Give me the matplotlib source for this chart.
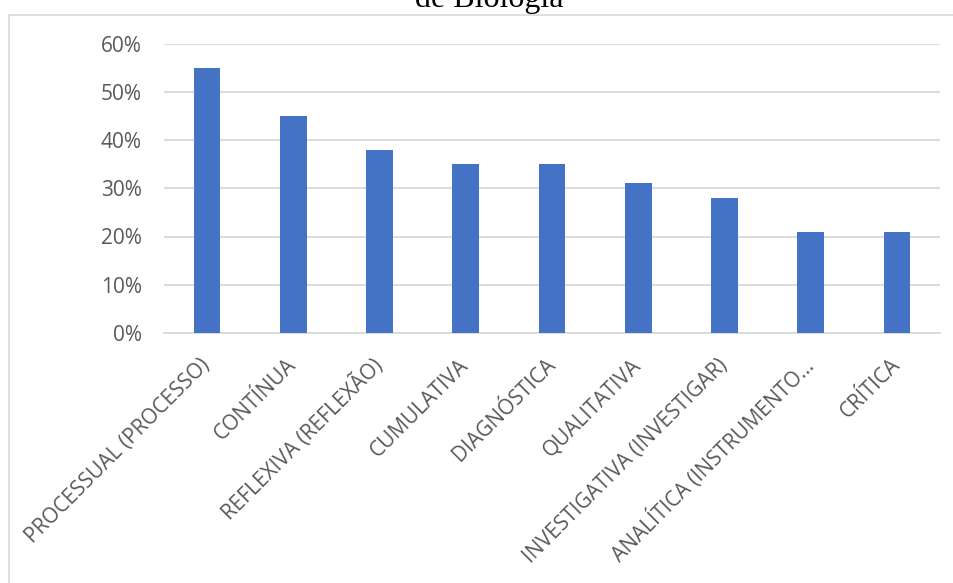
import numpy as np
import matplotlib
matplotlib.use('Agg')
import matplotlib.pyplot as plt
from matplotlib.lines import Line2D
from matplotlib.ticker import FuncFormatter

# dados
categorias = ['PROCESSUAL (PROCESSO)', 'CONTÍNUA', 'REFLEXIVA (REFLEXÃO)',
              'CUMULATIVA', 'DIAGNÓSTICA', 'QUALITATIVA',
              'INVESTIGATIVA (INVESTIGAR)', 'ANALÍTICA (INSTRUMENTO…', 'CRÍTICA']
percentuais = [0.55, 0.45, 0.38, 0.35, 0.35, 0.31, 0.28, 0.21, 0.21]
y_ticks = [0.0, 0.1, 0.2, 0.3, 0.4, 0.5, 0.6]

plt.rcParams['font.family'] = ['Open Sans', 'DejaVu Sans']

W, H = 954, 583
fig = plt.figure(figsize=(W / 100, H / 100), dpi=100, facecolor='white')

# moldura do grafico (so a borda esquerda e a superior aparecem)
borda_x = 9.5 / W
borda_y = 1 - 14.5 / H
fig.add_artist(Line2D([borda_x, borda_x], [0, borda_y], transform=fig.transFigure,
                      color='#d9d9d9', linewidth=1.2))
fig.add_artist(Line2D([borda_x, 1], [borda_y, borda_y], transform=fig.transFigure,
                      color='#d9d9d9', linewidth=1.2))

# titulo cortado no topo
fig.text(489 / W, 1 - 7 / H, 'de Biologia', ha='center', va='baseline',
         fontsize=23, family='Liberation Serif', color='black')

ax = fig.add_axes([164 / W, 1 - 333 / H, (940 - 164) / W, (333 - 43.5) / H])

x = np.arange(len(categorias))
ax.bar(x, percentuais, width=0.31, color='#4472C4', zorder=3)

ax.set_xlim(-0.5, len(categorias) - 0.5)
ax.set_ylim(0, 0.6)
ax.set_yticks(y_ticks)
ax.yaxis.set_major_formatter(FuncFormatter(lambda v, p: '{:.0f}%'.format(v * 100)))
ax.grid(axis='y', color='#d9d9d9', linewidth=1.3, zorder=0)
ax.set_axisbelow(True)

for s in ['top', 'right', 'left']:
    ax.spines[s].set_visible(False)
ax.spines['bottom'].set_color('#d9d9d9')
ax.spines['bottom'].set_linewidth(1.3)

ax.set_xticks(x)
ax.set_xticklabels(categorias, rotation=45, ha='right', va='center',
                   rotation_mode='anchor')
ax.tick_params(axis='both', length=0, labelsize=15, labelcolor='#595959')
ax.tick_params(axis='x', pad=21)
ax.tick_params(axis='y', pad=16)

fig.savefig('out.png', dpi=100, facecolor='white')
